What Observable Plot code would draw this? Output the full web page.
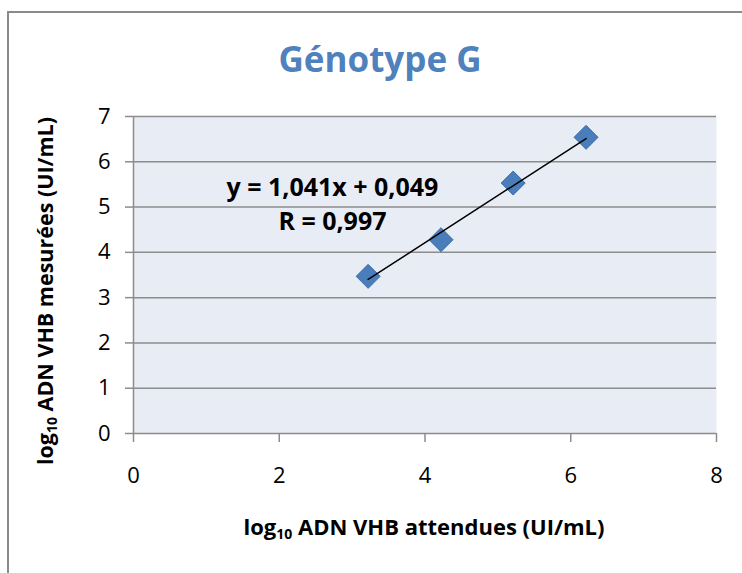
<!DOCTYPE html>
<html>
<head>
<meta charset="utf-8">
<script src="https://cdn.jsdelivr.net/npm/d3@7"></script>
<script src="https://cdn.jsdelivr.net/npm/@observablehq/plot@0.6"></script>
<style>
  html, body { margin: 0; padding: 0; background: #fff; }
  #wrap { position: relative; width: 742px; height: 573px; overflow: hidden; font-family: "Open Sans", sans-serif; }
  #frame { position: absolute; left: 7px; top: 11px; width: 800px; height: 600px; border: 2px solid #8a8a8a; box-sizing: border-box; }
  #chart { position: absolute; left: 0; top: 0; }
  .lbl { position: absolute; white-space: nowrap; font-weight: bold; color: #000; }
  #title { left: 380px; top: 37px; transform: translateX(-50%); font-size: 35px; line-height: 44px; color: #4F81BD; font-weight: bold; position: absolute; white-space: nowrap; }
  #xlab { left: 424px; top: 514px; transform: translateX(-50%); font-size: 22px; line-height: 24px; }
  #ylab { left: 45px; top: 291px; transform: translate(-50%, -50%) rotate(-90deg); font-size: 21.5px; line-height: 24px; }
  sub { font-size: 14px; vertical-align: -4px; line-height: 0; }
</style>
</head>
<body>
<div id="wrap">
  <div id="frame"></div>
  <div id="chart"></div>
  <div id="title">Génotype G</div>
  <div id="xlab" class="lbl">log<sub>10</sub> ADN VHB attendues (UI/mL)</div>
  <div id="ylab" class="lbl">log<sub>10</sub> ADN VHB mesurées (UI/mL)</div>
</div>
<script>
// Data
const expected = [3.22, 4.22, 5.21, 6.21];   // log10 ADN VHB attendues
const measured = [3.47, 4.28, 5.53, 6.54];   // log10 ADN VHB mesurées
const slope = 1.041;
const intercept = 0.049;
const xTicks = [0, 2, 4, 6, 8];
const yTicks = [0, 1, 2, 3, 4, 5, 6, 7];
const eqTexts = ["y = 1,041x + 0,049", "R = 0,997"];
const eqX = [2.73, 2.73];
const eqY = [5.43, 4.68];

const points = expected.map((x, i) => ({x, y: measured[i]}));
const trend = [d3.min(expected), d3.max(expected)].map(x => ({x, y: slope * x + intercept}));
const eq = eqTexts.map((t, i) => ({t, x: eqX[i], y: eqY[i]}));

const grid = "#8c8c8c";
const hasAxisMarks = typeof Plot.axisY === "function";
const fmt = d3.format("d");

const axisMarks = hasAxisMarks ? [
  Plot.axisY({ticks: yTicks, tickFormat: fmt, tickSize: 8, tickPadding: 15, stroke: grid, strokeWidth: 1.5, fill: "#000", fontSize: 22, label: null}),
  Plot.axisX({ticks: xTicks, tickFormat: fmt, tickSize: 9, tickPadding: 25, stroke: grid, strokeWidth: 1.5, fill: "#000", fontSize: 22, label: null})
] : [];

const chart = Plot.plot({
  width: 742,
  height: 573,
  marginLeft: 133,
  marginRight: 26,
  marginTop: 116,
  marginBottom: 140,
  style: {fontFamily: "Open Sans, sans-serif", fontSize: "22px", background: "transparent", color: "#000"},
  x: hasAxisMarks ? {domain: [0, 8]} : {domain: [0, 8], ticks: xTicks, tickFormat: fmt, tickSize: 9, tickPadding: 25, label: null},
  y: hasAxisMarks ? {domain: [0, 7]} : {domain: [0, 7], ticks: yTicks, tickFormat: fmt, tickSize: 8, tickPadding: 15, label: null},
  marks: [
    Plot.frame({fill: "#E8ECF4", stroke: null}),
    Plot.ruleY(yTicks, {stroke: grid, strokeWidth: 1.5}),
    Plot.ruleX([0], {stroke: grid, strokeWidth: 1.5}),
    ...axisMarks,
    Plot.dot(points, {x: "x", y: "y", symbol: "diamond2", r: 10.8, fill: "#4A7EBB", stroke: "#3B6BA5", strokeWidth: 1}),
    Plot.line(trend, {x: "x", y: "y", stroke: "#000", strokeWidth: 1.5}),
    Plot.text(eq, {x: "x", y: "y", text: "t", fontSize: 25, fontWeight: "bold", fill: "#000"})
  ]
});
document.getElementById("chart").appendChild(chart);
</script>
</body>
</html>
